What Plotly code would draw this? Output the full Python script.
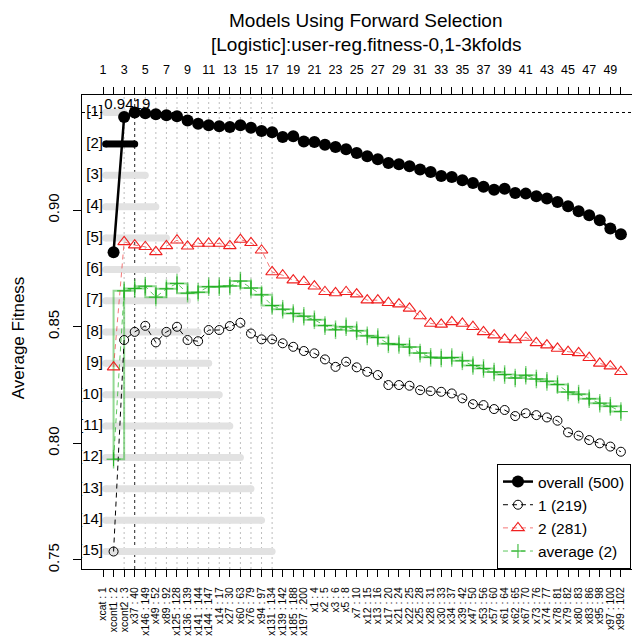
import plotly.graph_objects as go

# ---- data -------------------------------------------------------------
steps = list(range(2, 51))

overall = [0.8820, 0.9400, 0.9419, 0.9416, 0.9411, 0.9407, 0.9403, 0.9385, 0.9371,
           0.9364, 0.9360, 0.9357, 0.9364, 0.9354, 0.9340, 0.9334, 0.9314, 0.9317,
           0.9295, 0.9292, 0.9281, 0.9271, 0.9261, 0.9245, 0.9231, 0.9218, 0.9202,
           0.9197, 0.9188, 0.9174, 0.9164, 0.9147, 0.9142, 0.9128, 0.9117, 0.9100,
           0.9088, 0.9092, 0.9074, 0.9071, 0.9060, 0.9050, 0.9035, 0.9017, 0.8995,
           0.8978, 0.8957, 0.8921, 0.8897]

group1 = [0.7536, 0.8443, 0.8478, 0.8504, 0.8433, 0.8478, 0.8500, 0.8443, 0.8438,
          0.8486, 0.8486, 0.8503, 0.8517, 0.8471, 0.8446, 0.8446, 0.8429, 0.8414,
          0.8396, 0.8386, 0.8360, 0.8328, 0.8350, 0.8326, 0.8307, 0.8293, 0.8250,
          0.8250, 0.8247, 0.8228, 0.8224, 0.8221, 0.8214, 0.8193, 0.8168, 0.8164,
          0.8147, 0.8143, 0.8117, 0.8129, 0.8121, 0.8111, 0.8097, 0.8047, 0.8033,
          0.8014, 0.8000, 0.7986, 0.7964]

group2 = [0.8327, 0.8864, 0.8850, 0.8843, 0.8821, 0.8847, 0.8871, 0.8845, 0.8857,
          0.8857, 0.8857, 0.8847, 0.8874, 0.8860, 0.8828, 0.8735, 0.8721, 0.8700,
          0.8693, 0.8674, 0.8650, 0.8645, 0.8650, 0.8640, 0.8614, 0.8614, 0.8603,
          0.8597, 0.8579, 0.8546, 0.8514, 0.8510, 0.8521, 0.8514, 0.8500, 0.8478,
          0.8464, 0.8446, 0.8443, 0.8454, 0.8431, 0.8421, 0.8407, 0.8393, 0.8388,
          0.8367, 0.8343, 0.8331, 0.8307]

average = [0.7932, 0.8654, 0.8664, 0.8674, 0.8627, 0.8663, 0.8686, 0.8644, 0.8648,
           0.8672, 0.8672, 0.8675, 0.8696, 0.8666, 0.8637, 0.8591, 0.8575, 0.8557,
           0.8545, 0.8530, 0.8505, 0.8487, 0.8500, 0.8483, 0.8461, 0.8454, 0.8427,
           0.8424, 0.8413, 0.8387, 0.8369, 0.8366, 0.8368, 0.8354, 0.8334, 0.8321,
           0.8306, 0.8295, 0.8280, 0.8292, 0.8276, 0.8266, 0.8252, 0.8220, 0.8211,
           0.8191, 0.8172, 0.8159, 0.8136]
average_err = 0.004

series_names = ["overall (500)", "1 (219)", "2 (281)", "average (2)"]

best_value = 0.9419
best_step = 4

# ranked models: label, level and reach of each bar
rank_labels = ["[%d]" % i for i in range(1, 16)]
rank_levels = [0.9419, 0.9284, 0.9150, 0.9015, 0.8881, 0.8746, 0.8612, 0.8477,
               0.8343, 0.8208, 0.8074, 0.7939, 0.7805, 0.7670, 0.7536]
rank_start = 1.25
rank_end = list(range(3, 18))
best_rank = 2

tick_steps = list(range(1, 51))
top_labels = [str(i) if i % 2 == 1 else "" for i in tick_steps]
var_labels = ["xcat : 1", "xcont1 : 2", "xcont2 : 3", "x37 : 40", "x146 : 149",
              "x49 : 52", "x89 : 92", "x125 : 128", "x136 : 139", "x141 : 144",
              "x144 : 147", "x14 : 17", "x27 : 30", "x60 : 63", "x76 : 79",
              "x94 : 97", "x131 : 134", "x139 : 142", "x185 : 188", "x197 : 200",
              "x1 : 4", "x2 : 5", "x3 : 6", "x5 : 8", "x7 : 10", "x12 : 15",
              "x13 : 16", "x17 : 20", "x21 : 24", "x22 : 25", "x25 : 28",
              "x28 : 31", "x30 : 33", "x34 : 37", "x39 : 42", "x47 : 50",
              "x53 : 56", "x57 : 60", "x61 : 64", "x62 : 65", "x67 : 70",
              "x73 : 76", "x74 : 77", "x78 : 81", "x79 : 82", "x80 : 83",
              "x83 : 86", "x95 : 98", "x97 : 100", "x99 : 102"]
y_ticks = [0.75, 0.80, 0.85, 0.90]

FONT = "Liberation Sans, Arial, Helvetica, sans-serif"
GREEN = "#22B022"

fig = go.Figure()

# ranked-model bars (round ends via end markers)
for lab, lvl, end in zip(rank_labels, rank_levels, rank_end):
    is_best = lab == "[%d]" % best_rank
    col = "black" if is_best else "#E2E2E2"
    fig.add_trace(go.Scatter(
        x=[rank_start, end], y=[lvl, lvl], mode="lines+markers",
        line=dict(color=col, width=7),
        marker=dict(color=col, size=7, line=dict(width=0)),
        showlegend=False, hoverinfo="skip"))

fig.add_trace(go.Scatter(
    x=[1.0] * len(rank_labels), y=rank_levels, mode="text", text=rank_labels,
    textposition="middle left", textfont=dict(family=FONT, size=15, color="black"),
    showlegend=False, hoverinfo="skip", cliponaxis=True))

# reference lines
for s in rank_end:
    if s == best_step:
        fig.add_vline(x=s, line=dict(color="#222222", width=1, dash="3px,3px"), layer="below")
    else:
        fig.add_vline(x=s, line=dict(color="#BDBDBD", width=1, dash="2px,3px"), layer="below")
fig.add_hline(y=best_value, line=dict(color="black", width=1, dash="3px,3px"), layer="below")

# average: step outlines and spread
fig.add_trace(go.Scatter(x=steps, y=average, mode="lines", line_shape="hv",
                         line=dict(color="rgba(40,180,40,0.5)", width=2),
                         showlegend=False, hoverinfo="skip"))
fig.add_trace(go.Scatter(x=steps, y=average, mode="lines", line_shape="vh",
                         line=dict(color="rgba(40,180,40,0.5)", width=2),
                         showlegend=False, hoverinfo="skip"))
fig.add_trace(go.Scatter(x=steps, y=average, mode="markers",
                         marker=dict(size=1, color="rgba(0,0,0,0)"),
                         error_y=dict(type="constant", value=average_err,
                                      color="rgba(40,180,40,0.55)", thickness=1.5, width=0),
                         showlegend=False, hoverinfo="skip"))

# series
fig.add_trace(go.Scatter(
    x=steps, y=overall, mode="lines+markers", name=series_names[0],
    line=dict(color="black", width=2.5),
    marker=dict(symbol="circle", size=12, color="black")))
fig.add_trace(go.Scatter(
    x=steps, y=group1, mode="lines+markers", name=series_names[1],
    line=dict(color="black", width=1, dash="5px,4px"),
    marker=dict(symbol="circle-open", size=9, color="black", line=dict(width=1))))
fig.add_trace(go.Scatter(
    x=steps, y=group2, mode="lines+markers", name=series_names[2],
    line=dict(color="rgba(240,60,60,0.7)", width=1, dash="5px,4px"),
    marker=dict(symbol="triangle-up-open", size=11, color="#F02020", line=dict(width=1.1))))
fig.add_trace(go.Scatter(
    x=steps, y=average, mode="lines+markers", name=series_names[3],
    line=dict(color="rgba(40,180,40,0.75)", width=1, dash="5px,4px"),
    marker=dict(symbol="cross-thin-open", size=10, color=GREEN, line=dict(width=1, color=GREEN))))

# best value label
fig.add_trace(go.Scatter(
    x=[3.3], y=[best_value], mode="text", text=["%.4f" % best_value],
    textposition="top center", textfont=dict(family=FONT, size=15, color="black"),
    showlegend=False, hoverinfo="skip", cliponaxis=False))

x_range = [-0.987, 51.05]
y_range = [0.7461, 0.9494]

fig.update_layout(
    width=632, height=637,
    margin=dict(l=82, r=0, t=95, b=68, autoexpand=False),
    paper_bgcolor="white", plot_bgcolor="white",
    font=dict(family=FONT, color="black"),
    xaxis=dict(range=x_range, tickmode="array", tickvals=tick_steps, ticktext=var_labels,
               tickangle=-90, tickfont=dict(size=10.4), ticks="outside", ticklen=7,
               tickcolor="black", showline=True, linecolor="black", linewidth=1,
               showgrid=False, zeroline=False, ticklabelstandoff=6),
    xaxis2=dict(range=x_range, overlaying="x", side="top", tickmode="array",
                tickvals=tick_steps, ticktext=top_labels, tickangle=0,
                tickfont=dict(size=12.5), ticks="outside", ticklen=7, tickcolor="black",
                showline=True, linecolor="black", linewidth=1, showgrid=False,
                zeroline=False, ticklabelstandoff=8),
    yaxis=dict(range=y_range, tickmode="array", tickvals=y_ticks,
               ticktext=["%.2f" % v for v in y_ticks], tickangle=-90,
               tickfont=dict(size=15), ticks="outside", ticklen=8, tickcolor="black",
               showline=True, linecolor="black", linewidth=1, showgrid=False,
               zeroline=False, ticklabelstandoff=8),
    legend=dict(x=0.7545, xanchor="left", y=0, yanchor="bottom",
                bordercolor="black", borderwidth=1, bgcolor="white",
                font=dict(size=15.5, family=FONT), tracegroupgap=0, itemwidth=30),
    showlegend=True,
    annotations=[
        dict(text="Models Using Forward Selection", xref="paper", yref="paper",
             x=0.5164, y=1.1582, xanchor="center", yanchor="middle", showarrow=False,
             font=dict(size=19, family=FONT)),
        dict(text="[Logistic]:user-reg.fitness-0,1-3kfolds", xref="paper", yref="paper",
             x=0.5164, y=1.1055, xanchor="center", yanchor="middle", showarrow=False,
             font=dict(size=19, family=FONT)),
        dict(text="Average Fitness", xref="paper", yref="paper", x=-0.1164, y=0.489,
             xanchor="center", yanchor="middle", textangle=-90, showarrow=False,
             font=dict(size=17, family=FONT)),
    ],
)
# anchor the top axis ticks with an invisible trace
fig.add_trace(go.Scatter(x=[tick_steps[0]], y=[y_ticks[0]], xaxis="x2", mode="markers",
                         marker=dict(size=1, color="rgba(0,0,0,0)"),
                         showlegend=False, hoverinfo="skip"))

fig.write_html("out.html")
